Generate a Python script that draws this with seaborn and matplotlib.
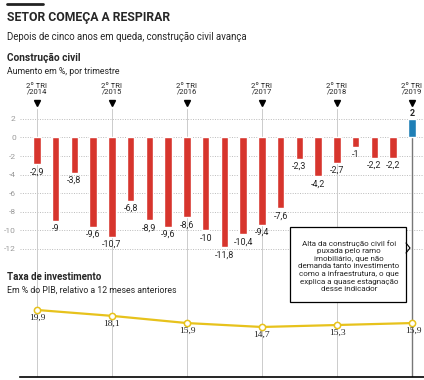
import matplotlib
matplotlib.use('Agg')
from matplotlib import pyplot as plt
from matplotlib.patches import Rectangle
import pandas as pd
import seaborn as sns

# dados
quarters = ['2T14', '3T14', '4T14', '1T15', '2T15', '3T15', '4T15', '1T16', '2T16', '3T16', '4T16',
            '1T17', '2T17', '3T17', '4T17', '1T18', '2T18', '3T18', '4T18', '1T19', '2T19']
construcao = [-2.9, -9, -3.8, -9.6, -10.7, -6.8, -8.9, -9.6, -8.6, -10, -11.8,
              -10.4, -9.4, -7.6, -2.3, -4.2, -2.7, -1, -2.2, -2.2, 2]
marcos = ['2º TRI\n/2014', '2º TRI\n/2015', '2º TRI\n/2016', '2º TRI\n/2017', '2º TRI\n/2018', '2º TRI\n/2019']
marcos_idx = [0, 4, 8, 12, 16, 20]
investimento = [19.9, 18.1, 15.9, 14.7, 15.3, 15.9]

RED = '#d7352d'
BLUE = '#1f7fb6'
YELLOW = '#e7c21c'

sns.set_style('white')
plt.rcParams['font.family'] = ['Roboto', 'DejaVu Sans']

W, H = 424, 380
fig = plt.figure(figsize=(W / 100, H / 100), dpi=100)

def fx(px):
    return px / W

def fy(py):
    return 1 - py / H

# axes principal: de y=105 a y=377 px
ax = fig.add_axes([fx(20), fy(377), 1 - fx(20), fy(105) - fy(377)])

df = pd.DataFrame({'q': quarters, 'v': construcao})
cores = [BLUE if v > 0 else RED for v in construcao]
sns.barplot(data=df, x='q', y='v', hue='q', palette=cores, legend=False,
            width=0.4, ax=ax, zorder=3, saturation=1)

ax.set_ylim(-25.8, 3.5)
ax.set_xlim(-0.9, 20.64)
ax.set_yticks([2, 0, -2, -4, -6, -8, -10, -12])
ax.set_yticklabels(['2', '0', '-2', '-4', '-6', '-8', '-10', '-12'], color='#9a9a9a', fontsize=6)
ax.tick_params(axis='y', length=0, pad=3)
ax.set_xticks([])
ax.set_xlabel('')
ax.set_ylabel('')
for y in [2, 0, -2, -4, -6, -8, -10, -12]:
    ax.axhline(y, color='#bbbbbb', lw=0.7, ls=(0, (1, 1.5)), zorder=1)
for s in ['top', 'left', 'right']:
    ax.spines[s].set_visible(False)
ax.spines['bottom'].set_color('black')
ax.spines['bottom'].set_linewidth(1.2)

# linhas verticais e marcadores
for i, lab in zip(marcos_idx, marcos):
    if i == 20:
        ax.axvline(i, color='#777777', lw=1.0, zorder=2, ymax=0.985)
    else:
        ax.axvline(i, color='#cccccc', lw=0.7, zorder=2, ymax=0.985)
    ax.plot(i, 3.75, marker='v', color='black', markersize=4.5, clip_on=False, zorder=5)
    ax.text(i, 4.6, lab, ha='center', va='bottom', fontsize=5.5, linespacing=1.05)

# rótulos das barras
for i, v in enumerate(construcao):
    txt = ('%g' % v).replace('.', ',')
    if v > 0:
        ax.text(i, v + 0.3, txt, ha='center', va='baseline', fontsize=6.5, fontweight='bold', zorder=6,
                bbox=dict(boxstyle='square,pad=0.1', fc='white', ec='none'))
    else:
        ax.text(i, v - 0.35, txt, ha='center', va='top', fontsize=6.5, zorder=6)

# taxa de investimento
ax2 = ax.twinx()
inv = pd.DataFrame({'x': marcos_idx, 'y': investimento})
sns.lineplot(data=inv, x='x', y='y', ax=ax2, color=YELLOW, lw=1.6, marker='o',
             markersize=4.5, markerfacecolor='white', markeredgecolor=YELLOW, markeredgewidth=1.1, zorder=4)
ax2.set_ylim(-0.6, 82.6)
ax2.set_xlim(-0.9, 20.64)
ax2.set_yticks([])
ax2.set_ylabel('')
ax2.set_xlabel('')
for s in ['top', 'left', 'right', 'bottom']:
    ax2.spines[s].set_visible(False)
for x, y in zip(marcos_idx, investimento):
    txt = ('%.1f' % y).replace('.', ',')
    dx = 0.1 if x == 20 else 0
    ax2.text(x + dx, y - 1.3, txt, ha='center', va='top', fontsize=6.8, family='Liberation Serif')

# caixa de nota
fig.add_artist(Rectangle((fx(290), fy(302)), fx(116), fy(227) - fy(302), transform=fig.transFigure,
                         fc='white', ec='black', lw=0.9, zorder=9))
fig.add_artist(plt.Line2D([fx(406), fx(410), fx(406)], [fy(243), fy(248), fy(253)],
                          color='black', lw=0.8, zorder=9))
nota = ('Alta da construção civil foi\npuxada pelo ramo\nimobiliário, que não\n'
        'demanda tanto investimento\ncomo a infraestrutura, o que\nexplica a quase estagnação\ndesse indicador')
fig.text(fx(349), fy(266), nota, ha='center', va='center', fontsize=5.8, linespacing=1.27, zorder=10)

# títulos
fig.add_artist(plt.Line2D([fx(7), fx(43)], [fy(4), fy(4)], color='#222222', lw=2))
fig.text(fx(7), fy(18), 'SETOR COMEÇA A RESPIRAR', fontsize=8.8, fontweight='bold', va='center')
fig.text(fx(7), fy(37), 'Depois de cinco anos em queda, construção civil avança', fontsize=6.9, va='center')
fig.text(fx(7), fy(58), 'Construção civil', fontsize=7.3, fontweight='bold', va='center')
fig.text(fx(7), fy(71), 'Aumento em %, por trimestre', fontsize=6.3, va='center')
fig.text(fx(7), fy(277), 'Taxa de investimento', fontsize=7, fontweight='bold', va='center')
fig.text(fx(7), fy(290), 'Em % do PIB, relativo a 12 meses anteriores', fontsize=6.3, va='center')

plt.savefig('out.png', dpi=100)
